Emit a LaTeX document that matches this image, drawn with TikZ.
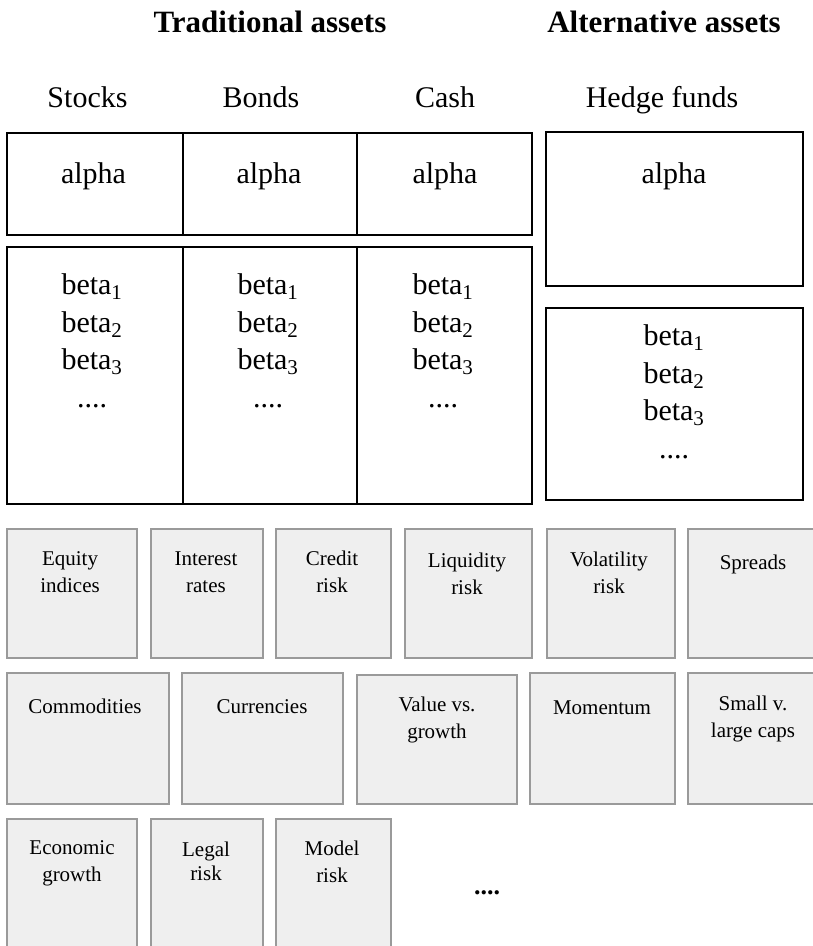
\documentclass[tikz,border=0pt]{standalone}
\usepackage{fontspec}
\setmainfont{Liberation Serif}
\definecolor{gfill}{HTML}{EFEFEF}
\definecolor{gline}{HTML}{9A9A9A}
\newcommand\mybox[6]{\node[#1,minimum width={#4-#2},minimum height={#5-#3}] (#6) at ({(#2+#4)/2},{(#3+#5)/2}) {};}
\begin{document}
\begin{tikzpicture}[x=1pt,y=-1pt,
  blk/.style={draw=black,line width=1.6pt,rectangle,inner sep=0pt,outer sep=0pt},
  gry/.style={draw=gline,fill=gfill,line width=1.5pt,rectangle,inner sep=0pt,outer sep=0pt},
  big/.style={font=\fontsize{30}{37.5}\selectfont,anchor=base,inner sep=0pt,align=center},
  hdr/.style={font=\bfseries\fontsize{31}{36}\selectfont,anchor=base,inner sep=0pt},
  sml/.style={font=\fontsize{21}{27}\selectfont,anchor=base,inner sep=0pt,align=center},
]
\useasboundingbox (0,0) rectangle (813,946);
\clip (0,0) rectangle (813,946);
\fill[white] (0,0) rectangle (813,946);

% headers
\node[hdr] (trad) at (270,32) {Traditional assets};
\node[hdr] (alt) at (664,32) {Alternative assets};
\node[big] (hstock) at (87.5,107) {Stocks};
\node[big] (hbond) at (261,107) {Bonds};
\node[big] (hcash) at (445,107) {Cash};
\node[big] (hhedge) at (662,107) {Hedge funds};

% black boxes
\mybox{blk}{7}{133}{183}{235}{stA}
\mybox{blk}{183}{133}{357}{235}{boA}
\mybox{blk}{357}{133}{532}{235}{caA}
\mybox{blk}{7}{247}{183}{504}{stB}
\mybox{blk}{183}{247}{357}{504}{boB}
\mybox{blk}{357}{247}{532}{504}{caB}
\mybox{blk}{546}{132}{803}{286}{hfA}
\mybox{blk}{546}{308}{803}{500}{hfB}

\node[big] (tstA) at (93.5,183) {alpha};
\node[big] (tboA) at (269,183) {alpha};
\node[big] (tcaA) at (445,183) {alpha};
\node[big] (thfA) at (674,183) {alpha};
\node[big] (tstB) at (92,407) {beta\textsubscript{1}\\beta\textsubscript{2}\\beta\textsubscript{3}\\....};
\node[big] (tboB) at (268,407) {beta\textsubscript{1}\\beta\textsubscript{2}\\beta\textsubscript{3}\\....};
\node[big] (tcaB) at (443,407) {beta\textsubscript{1}\\beta\textsubscript{2}\\beta\textsubscript{3}\\....};
\node[big] (thfB) at (674,458) {beta\textsubscript{1}\\beta\textsubscript{2}\\beta\textsubscript{3}\\....};

% gray boxes row 1
\mybox{gry}{7}{529}{137}{658}{eq}
\mybox{gry}{151}{529}{263}{658}{ir}
\mybox{gry}{276}{529}{391}{658}{cr}
\mybox{gry}{405}{529}{532}{658}{lq}
\mybox{gry}{547}{529}{675}{658}{vo}
\mybox{gry}{688}{529}{818}{658}{sp}
% row 2
\mybox{gry}{7}{673}{169}{804}{co}
\mybox{gry}{182}{673}{343}{804}{cu}
\mybox{gry}{357}{675}{517}{804}{va}
\mybox{gry}{530}{673}{675}{804}{mo}
\mybox{gry}{688}{673}{818}{804}{sm}
% row 3
\mybox{gry}{7}{819}{137}{960}{ec}
\mybox{gry}{151}{819}{263}{960}{le}
\mybox{gry}{276}{819}{391}{960}{mr}

\node[sml] (teq) at (70,592) {Equity\\indices};
\node[sml] (tir) at (206,592) {Interest\\rates};
\node[sml] (tcr) at (332,592) {Credit\\risk};
\node[sml] (tlq) at (467,594) {Liquidity\\risk};
\node[sml] (tvo) at (609,593) {Volatility\\risk};
\node[sml] (tsp) at (753,569) {Spreads};
\node[sml] (tco) at (85,713) {Commodities};
\node[sml] (tcu) at (262,713) {Currencies};
\node[sml] (tva) at (437,738) {Value vs.\\growth};
\node[sml] (tmo) at (602,714) {Momentum};
\node[sml] (tsm) at (753,737) {Small v.\\large caps};
\node[sml] (tec) at (72,881) {Economic\\growth};
\node[sml,font=\fontsize{21}{24}\selectfont] (tle) at (206,880) {Legal\\risk};
\node[sml] (tmr) at (332,882) {Model\\risk};
\node[anchor=base,inner sep=0pt,font=\bfseries\fontsize{26}{30}\selectfont] (more) at (487,894) {....};
\end{tikzpicture}
\end{document}
